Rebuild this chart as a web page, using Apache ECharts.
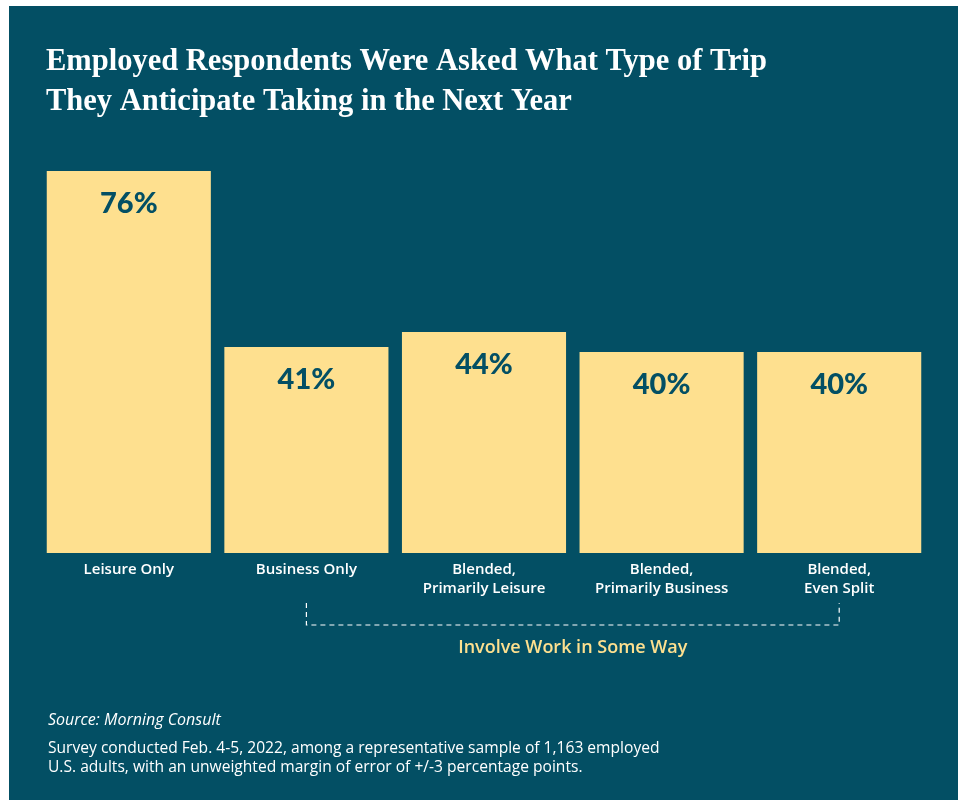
<!DOCTYPE html>
<html><head><meta charset="utf-8">
<script src="https://cdn.jsdelivr.net/npm/echarts@6/dist/echarts.min.js"></script>
<style>
html,body{margin:0;padding:0;background:#fff;width:958px;height:800px;overflow:hidden;}
#c{position:absolute;left:9px;top:6px;width:949px;height:794px;}
</style></head>
<body><div id="c"></div>
<script>
const categories = ['Leisure Only', 'Business Only', 'Blended,\nPrimarily Leisure', 'Blended,\nPrimarily Business', 'Blended,\nEven Split'];
const values = [76, 41, 44, 40, 40];
const titleText = 'Employed Respondents Were Asked What Type of Trip\nThey Anticipate Taking in the Next Year';
const bracketLabel = 'Involve Work in Some Way';
const bracketFrom = 1, bracketTo = 4;
const sourceText = 'Source: Morning Consult';
const noteText = 'Survey conducted Feb. 4-5, 2022, among a representative sample of 1,163 employed\nU.S. adults, with an unweighted margin of error of +/-3 percentage points.';

const BG = '#034F64', BAR = '#FEE08F';
const chart = echarts.init(document.getElementById('c'), null, {renderer:'canvas'});
const option = {
  backgroundColor: BG,
  animation: false,
  title: {
    text: titleText, left: 32, top: 31,
    textStyle: {color:'#fff', fontFamily:'Liberation Serif', fontWeight:'bold', fontSize:30.5, lineHeight:40}
  },
  grid: {left: 31, right: 30, top: 145, bottom: 247},
  xAxis: {
    type:'category', data: categories,
    axisLine:{show:false}, axisTick:{show:false},
    axisLabel:{color:'#fff', fontFamily:'Open Sans', fontWeight:600, fontSize:15, lineHeight:19, margin:7, interval:0}
  },
  yAxis: {type:'value', min:0, max:80, show:false, splitLine:{show:false}},
  series: [{
    type:'bar', data: values, barCategoryGap:'7.6%',
    itemStyle:{color:BAR},
    label:{show:true, position:'insideTop', distance:18, formatter:'{c}%', color:BG, fontFamily:'Lato', fontWeight:900, fontSize:29}
  }]
};
chart.setOption(option);
const x1 = chart.convertToPixel({xAxisIndex:0}, bracketFrom);
const x2 = chart.convertToPixel({xAxisIndex:0}, bracketTo);
const yTop = 597, yBot = 619;
const dash = {stroke:'#fff', lineWidth:1.2, lineDash:[5,4]};
chart.setOption({
  graphic: [
    {type:'polyline', shape:{points:[[x1,yTop],[x1,yBot],[x2,yBot],[x2,yTop]]}, style:Object.assign({fill:null}, dash)},
    {type:'text', x:(x1+x2)/2, y:642, style:{text:bracketLabel, fill:BAR, font:'600 18px "Open Sans"', textAlign:'center', textVerticalAlign:'middle'}},
    {type:'text', x:39, y:714, style:{text:sourceText, fill:'#fff', font:'italic 16px "Open Sans"', textVerticalAlign:'middle'}},
    {type:'text', x:39, y:733, style:{text:noteText, fill:'#fff', font:'15.6px "Open Sans"', lineHeight:19}}
  ]
});
</script></body></html>
